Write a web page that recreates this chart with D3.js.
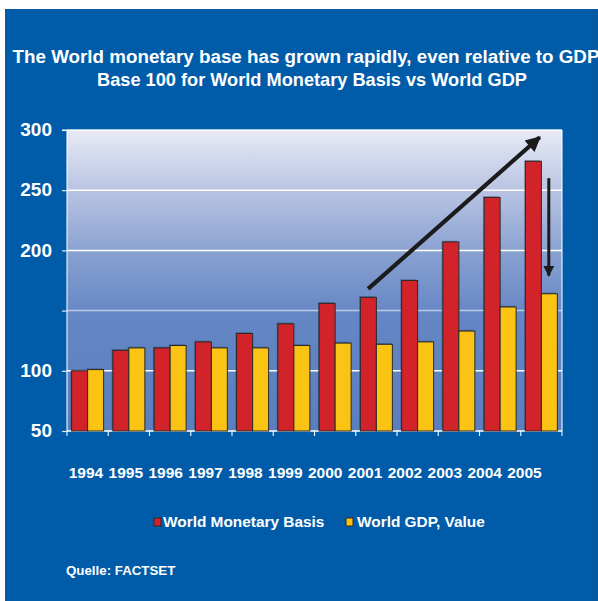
<!DOCTYPE html>
<html>
<head>
<meta charset="utf-8">
<script src="https://cdn.jsdelivr.net/npm/d3@7"></script>
<style>
  html, body { margin: 0; padding: 0; background: #ffffff; }
  svg { display: block; }
  text { font-family: "Liberation Sans", Arial, Helvetica, sans-serif; font-weight: bold; fill: #ffffff; }
</style>
</head>
<body>
<svg id="chart" width="598" height="601"></svg>
<script>
// ---- data ----
const categories = ["1994","1995","1996","1997","1998","1999","2000","2001","2002","2003","2004","2005"];
const monetaryBasis = [100, 117, 119, 124, 131, 139, 156, 161, 175, 207, 244, 274];
const worldGdp = [101, 119, 121, 119, 119, 121, 123, 122, 124, 133, 153, 164];
const seriesNames = ["World Monetary Basis", "World GDP, Value"];
const yTickValues = [50, 100, 150, 200, 250, 300];
const yTickLabels = ["50", "100", "", "200", "250", "300"];
const titleLines = ["The World monetary base has grown rapidly, even relative to GDP",
                    "Base 100 for World Monetary Basis vs World GDP"];
const sourceText = "Quelle: FACTSET";
// annotation arrows in data space: [category index (fractional), value]
const trendArrow = [[6.80, 168], [10.96, 294]];
const dropArrow = [[11.18, 260], [11.18, 179]];

// ---- layout ----
const W = 598, H = 601;
const plot = { left: 67, right: 562, top: 130, bottom: 431 };
const colors = { bg: "#005ca8", red: "#d2232a", yellow: "#fbc313", stroke: "#2a2a2a" };

const svg = d3.select("#chart");

// outer blue panel
svg.append("rect").attr("x", 5).attr("y", 9).attr("width", W - 5).attr("height", H - 9).attr("fill", colors.bg);
svg.append("line").attr("x1", 594.5).attr("x2", 594.5).attr("y1", 9).attr("y2", H)
  .attr("stroke", "#0a5597").attr("stroke-width", 1);

// gradient for plot area
const defs = svg.append("defs");
const grad = defs.append("linearGradient").attr("id", "plotGrad").attr("x1", 0).attr("y1", 0).attr("x2", 0).attr("y2", 1);
[[0, "#e8eaf5"], [0.2, "#b9c4e3"], [0.42, "#869fd0"], [0.62, "#6486c4"], [1, "#5a7fbf"]]
  .forEach(([o, c]) => grad.append("stop").attr("offset", o).attr("stop-color", c));

const arrowHead = defs.append("marker").attr("id", "head").attr("viewBox", "0 0 10 10")
  .attr("refX", 9).attr("refY", 5).attr("markerWidth", 4.2).attr("markerHeight", 3.6)
  .attr("markerUnits", "strokeWidth").attr("orient", "auto");
arrowHead.append("path").attr("d", "M0,0 L10,5 L0,10 Z").attr("fill", "#1b1b1b");
const arrowHead2 = defs.append("marker").attr("id", "head2").attr("viewBox", "0 0 10 10")
  .attr("refX", 9).attr("refY", 5).attr("markerWidth", 6).attr("markerHeight", 3.6)
  .attr("markerUnits", "strokeWidth").attr("orient", "auto");
arrowHead2.append("path").attr("d", "M0,0 L10,5 L0,10 Z").attr("fill", "#1b1b1b");

// scales
const x = d3.scaleBand().domain(categories).range([plot.left, plot.right]).paddingInner(0).paddingOuter(0);
const x1 = d3.scaleBand().domain(seriesNames).range([0, x.bandwidth()]).paddingInner(0).paddingOuter(0.29);
const y = d3.scaleLinear().domain([50, 300]).range([plot.bottom, plot.top]);
const xIdx = d3.scaleLinear().domain([-0.5, categories.length - 0.5]).range([plot.left, plot.right]);
const xLabel = d3.scalePoint().domain(categories).range([86, 524.5]);
const color = d3.scaleOrdinal().domain(seriesNames).range([colors.red, colors.yellow]);

// plot background
svg.append("rect").attr("x", plot.left).attr("y", plot.top)
  .attr("width", plot.right - plot.left).attr("height", plot.bottom - plot.top)
  .attr("fill", "url(#plotGrad)");

// gridlines
svg.append("g").selectAll("line").data(yTickValues.filter(v => v > 50)).join("line")
  .attr("x1", plot.left).attr("x2", plot.right)
  .attr("y1", d => y(d)).attr("y2", d => y(d))
  .attr("stroke", d => d === 150 ? "rgba(255,255,255,0.55)" : (d === 300 ? "rgba(255,255,255,0.9)" : "#ffffff"))
  .attr("stroke-width", 1.5);

// right border of plot
svg.append("line").attr("x1", plot.right).attr("x2", plot.right).attr("y1", plot.top).attr("y2", plot.bottom + 5)
  .attr("stroke", "rgba(255,255,255,0.85)").attr("stroke-width", 1.2);

// y axis
const yAxis = d3.axisLeft(y).tickValues(yTickValues).tickFormat((d, i) => yTickLabels[i]).tickSize(5).tickPadding(10);
const gy = svg.append("g").attr("transform", `translate(${plot.left},0)`).call(yAxis);
gy.select(".domain").attr("stroke", "rgba(255,255,255,0.85)").attr("stroke-width", 1.2)
  .attr("d", `M-5,${plot.top}H0V${plot.bottom + 5}`);
gy.selectAll(".tick line").attr("stroke", "rgba(255,255,255,0.85)").attr("stroke-width", 1.2);
gy.selectAll(".tick text").attr("fill", "#ffffff").style("font-size", "19px")
  .style("font-family", "'Liberation Sans', Arial, sans-serif").style("font-weight", "bold")
  .attr("dy", "0.3em");

// x axis (ticks at band edges)
const gx = svg.append("g").attr("transform", `translate(0,${plot.bottom})`);
gx.append("line").attr("x1", plot.left).attr("x2", plot.right).attr("stroke", "#ffffff").attr("stroke-width", 1.5);
gx.selectAll("line.tk").data(categories.slice(1)).join("line").attr("class", "tk")
  .attr("x1", d => x(d)).attr("x2", d => x(d)).attr("y1", 0).attr("y2", 5)
  .attr("stroke", "rgba(255,255,255,0.9)").attr("stroke-width", 1.2);

// bars
const rows = categories.map((c, i) => ({ cat: c, vals: [monetaryBasis[i], worldGdp[i]] }));
const groups = svg.append("g").selectAll("g").data(rows).join("g")
  .attr("transform", d => `translate(${x(d.cat)},0)`);
groups.selectAll("rect.sh").data(d => d.vals.map((v, j) => ({ s: seriesNames[j], v }))).join("rect").attr("class", "sh")
  .attr("x", d => x1(d.s) - 1.2).attr("y", d => y(d.v) - 1.2)
  .attr("width", x1.bandwidth()).attr("height", d => y(50) - y(d.v))
  .attr("fill", "rgba(30,30,50,0.35)");
groups.selectAll("rect.bar").data(d => d.vals.map((v, j) => ({ s: seriesNames[j], v }))).join("rect").attr("class", "bar")
  .attr("x", d => x1(d.s)).attr("y", d => y(d.v))
  .attr("width", x1.bandwidth()).attr("height", d => y(50) - y(d.v))
  .attr("fill", d => color(d.s)).attr("stroke", colors.stroke).attr("stroke-width", 1);

// arrows
const line = d3.line().x(d => xIdx(d[0])).y(d => y(d[1]));
svg.append("path").attr("d", line(trendArrow)).attr("stroke", "#1b1b1b").attr("stroke-width", 4.2)
  .attr("fill", "none").attr("marker-end", "url(#head)");
svg.append("path").attr("d", line(dropArrow)).attr("stroke", "#1b1b1b").attr("stroke-width", 3)
  .attr("fill", "none").attr("marker-end", "url(#head2)");

// x labels
svg.append("g").selectAll("text").data(categories).join("text")
  .attr("x", d => xLabel(d)).attr("y", 478).attr("text-anchor", "middle")
  .style("font-size", "15.5px").text(d => d);

// title
svg.append("text").attr("x", 306).attr("y", 63).attr("text-anchor", "middle").style("font-size", "18.8px").text(titleLines[0]);
svg.append("text").attr("x", 312).attr("y", 86).attr("text-anchor", "middle").style("font-size", "18.2px").text(titleLines[1]);

// legend
const legendPos = [154, 346];
const lg = svg.append("g").selectAll("g").data(seriesNames).join("g")
  .attr("transform", (d, i) => `translate(${legendPos[i]},518)`);
lg.append("rect").attr("width", 7).attr("height", 8).attr("fill", d => color(d))
  .attr("stroke", colors.stroke).attr("stroke-width", 1);
lg.append("text").attr("x", (d, i) => i === 0 ? 9 : 11).attr("y", 9).style("font-size", "15.4px").text(d => d);

// source
svg.append("text").attr("x", 66).attr("y", 575).style("font-size", "13.3px").text(sourceText);
</script>
</body>
</html>
